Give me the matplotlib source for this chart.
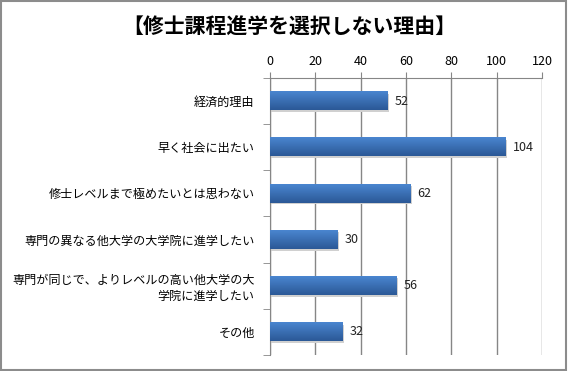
import matplotlib
matplotlib.use("Agg")
import matplotlib.pyplot as plt
import numpy as np
from matplotlib.patches import Rectangle
from matplotlib.colors import LinearSegmentedColormap

plt.rcParams['font.family'] = ['Noto Sans CJK JP', 'DejaVu Sans']

title = "【修士課程進学を選択しない理由】"
categories = ["経済的理由", "早く社会に出たい", "修士レベルまで極めたいとは思わない",
              "専門の異なる他大学の大学院に進学したい",
              "専門が同じで、よりレベルの高い他大学の大\n学院に進学したい", "その他"]
values = [52, 104, 62, 30, 56, 32]
xticks = [0, 20, 40, 60, 80, 100, 120]

fig = plt.figure(figsize=(5.68, 3.71), dpi=100)
fig.patches.append(Rectangle((0.002, 0.003), 0.995, 0.993, transform=fig.transFigure,
                             fill=False, edgecolor='#8c8c8c', linewidth=1.5))
ax = fig.add_axes([0.4754, 0.0431, 0.9542 - 0.4754, 0.7898 - 0.0431])

y = np.arange(len(categories))
# shadow
ax.barh(y + 0.04, values, height=0.4, left=0.5, color='#d0d0d0', zorder=2)
bars = ax.barh(y, values, height=0.4, color='#3a6eb5', zorder=3)
grad = np.linspace(0, 1, 64).reshape(-1, 1)
cmap = LinearSegmentedColormap.from_list('g', ['#4a86d0', '#2b5896'])
for b in bars:
    x0, yb, w, h = b.get_x(), b.get_y(), b.get_width(), b.get_height()
    ax.imshow(grad, extent=(x0, x0 + w, yb + h, yb), aspect='auto', cmap=cmap,
              zorder=4, interpolation='bicubic')
for yi, v in zip(y, values):
    ax.text(v + 3, yi, str(v), va='center', ha='left', fontsize=9, color='#222222', zorder=5)

ax.set_xlim(0, 120)
ax.set_ylim(len(categories) - 0.5, -0.5)
ax.xaxis.tick_top()
ax.set_xticks(xticks)
ax.tick_params(axis='x', length=4, color='#868686', labelsize=9, pad=3, direction='out')
ax.set_yticks(y)
ax.set_yticklabels(categories, fontsize=8.7, linespacing=1.25)
ax.tick_params(axis='y', which='major', length=0, pad=11)
ax.set_yticks(np.arange(-0.5, len(categories), 1), minor=True)
ax.tick_params(axis='y', which='minor', length=5, color='#868686')
ax.grid(axis='x', color='#868686', linewidth=1, zorder=0)
ax.set_axisbelow(True)
for s in ['right', 'bottom']:
    ax.spines[s].set_visible(False)
for s in ['left', 'top']:
    ax.spines[s].set_color('#868686')

fig.text(0.509, 0.927, title, ha='center', va='center', fontsize=15, fontweight='bold')
fig.savefig('out.png', dpi=100)
